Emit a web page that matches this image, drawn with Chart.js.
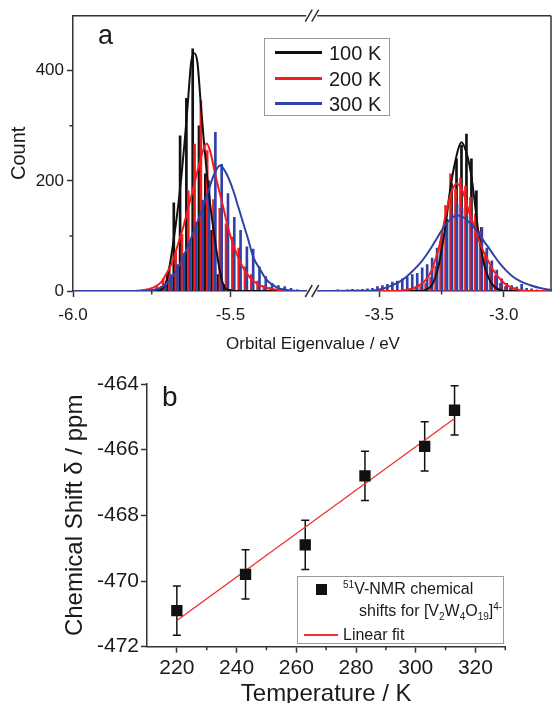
<!DOCTYPE html>
<html>
<head>
<meta charset="utf-8">
<script src="https://cdn.jsdelivr.net/npm/chart.js@4.4.0/dist/chart.umd.min.js"></script>
<style>
  html, body { margin: 0; padding: 0; background: #fff; }
  body { width: 552px; height: 703px; position: relative; overflow: hidden;
         font-family: "Liberation Sans", Arial, sans-serif; color: #1a1a1a; }
  canvas { position: absolute; left: 0; }
  .txt { position: absolute; white-space: nowrap; line-height: 1; }
  .box { position: absolute; border: 1.5px solid #9a9a9a; box-sizing: border-box; }
  .sw { position: absolute; }
  sup, sub { font-size: 10px; line-height: 0; }
</style>
</head>
<body>
<canvas id="histLeft" width="552" height="360" style="top:0"></canvas>
<canvas id="histRight" width="552" height="360" style="top:0"></canvas>
<canvas id="shift" width="552" height="350" style="top:360px"></canvas>

<div class="txt" style="left:98px;top:22px;font-size:27px">a</div>
<div class="txt" style="left:313px;top:335px;font-size:17px;transform:translateX(-50%)">Orbital Eigenvalue / eV</div>
<div id="legendA"></div>

<div class="txt" style="left:162px;top:383px;font-size:28px">b</div>
<div class="box" style="left:297px;top:576px;width:207px;height:68px"></div>
<div class="sw" style="left:315.5px;top:584px;width:11px;height:11px;background:#111"></div>
<div class="txt" style="left:343px;top:581px;font-size:16px"><sup>51</sup>V-NMR chemical</div>
<div class="txt" style="left:359px;top:603px;font-size:16px">shifts for [V<sub>2</sub>W<sub>4</sub>O<sub>19</sub>]<sup>4-</sup></div>
<div class="sw" style="left:303.5px;top:634.3px;width:34.5px;height:1.5px;background:#f03030"></div>
<div class="txt" style="left:343px;top:626.5px;font-size:16px">Linear fit</div>

<script>
// ---- panel a: histograms of orbital eigenvalues ----
const seriesNames = ['100 K', '200 K', '300 K'];

// lower-energy peak (left segment of the broken axis)
const leftBinX100 = [-5.72, -5.70, -5.68, -5.66, -5.64, -5.62, -5.60, -5.58, -5.56, -5.54, -5.52, -5.50];
const leftCount100 = [8, 30, 160, 282, 350, 440, 300, 213, 110, 30, 12, 3];
const leftBinX200 = [-5.774, -5.754, -5.734, -5.714, -5.694, -5.674, -5.654, -5.634, -5.614, -5.594, -5.574,
                     -5.554, -5.534, -5.514, -5.494, -5.474, -5.454, -5.434, -5.414, -5.394, -5.374, -5.354];
const leftCount200 = [1, 3, 8, 22, 44, 70, 103, 182, 267, 346, 255, 166, 150, 122, 98, 78, 44, 30, 18, 10, 6, 3];
const leftBinX300 = [-5.768, -5.748, -5.728, -5.708, -5.688, -5.668, -5.648, -5.628, -5.608, -5.588, -5.568, -5.548,
                     -5.528, -5.508, -5.488, -5.468, -5.448, -5.428, -5.408, -5.388, -5.368, -5.348, -5.328, -5.308, -5.288];
const leftCount300 = [1, 2, 5, 12, 30, 48, 68, 92, 125, 165, 200, 288, 230, 177, 134, 110, 80, 76, 44, 26, 14, 10, 8, 5, 2];

// higher-energy peak (right segment)
const rightBinX100 = [-3.35, -3.33, -3.31, -3.29, -3.27, -3.25, -3.23, -3.21, -3.19, -3.17, -3.15, -3.13, -3.11,
                      -3.09, -3.07, -3.05, -3.03, -3.01];
const rightCount100 = [1, 2, 4, 12, 30, 70, 130, 195, 240, 265, 285, 240, 182, 115, 60, 25, 8, 3];
const rightBinX200 = [-3.414, -3.394, -3.374, -3.354, -3.334, -3.314, -3.294, -3.274, -3.254, -3.234, -3.214, -3.194,
                      -3.174, -3.154, -3.134, -3.114, -3.094, -3.074, -3.054, -3.034, -3.014, -2.994, -2.974, -2.954, -2.934];
const rightCount200 = [1, 2, 3, 5, 8, 14, 25, 45, 90, 155, 213, 185, 205, 190, 170, 140, 108, 70, 45, 28, 14, 8, 5, 3, 2];
const rightBinX300 = [-3.708, -3.688, -3.668, -3.648, -3.628, -3.608, -3.588, -3.568, -3.548, -3.528, -3.508, -3.488,
                      -3.468, -3.448, -3.428, -3.408, -3.388, -3.368, -3.348, -3.328, -3.308, -3.288, -3.268, -3.248,
                      -3.228, -3.208, -3.188, -3.168, -3.148, -3.128, -3.108, -3.088, -3.068, -3.048, -3.028, -3.008,
                      -2.988, -2.968, -2.948, -2.928, -2.908, -2.888, -2.868, -2.848];
const rightCount300 = [1, 1, 2, 1, 2, 3, 2, 3, 4, 5, 8, 10, 12, 16, 18, 22, 25, 30, 32, 42, 48, 60, 78, 105, 128, 140,
                       158, 150, 135, 128, 112, 115, 78, 55, 38, 22, 14, 10, 7, 12, 5, 4, 2, 1];

// fitted curves
const leftFitX100 = [-6.0, -5.76, -5.735, -5.715, -5.705, -5.695, -5.685, -5.675, -5.665, -5.655, -5.645, -5.635, -5.625,
                     -5.615, -5.605, -5.595, -5.585, -5.575, -5.565, -5.555, -5.545, -5.535, -5.525, -5.515, -5.495, -5.47, -5.26];
const leftFitY100 = [0, 0, 0.5, 4, 15, 40, 75, 115, 160, 213, 275, 345, 415, 432, 415, 345, 275, 213, 160, 115, 75, 40, 15, 4, 0.5, 0, 0];
const leftFitX200 = [-6.0, -5.82, -5.787, -5.746, -5.72, -5.703, -5.683, -5.663, -5.648, -5.634, -5.62, -5.607, -5.595, -5.585,
                     -5.576, -5.565, -5.549, -5.536, -5.523, -5.51, -5.496, -5.475, -5.449, -5.42, -5.385, -5.333, -5.28, -5.26];
const leftFitY200 = [0, 0, 1, 6, 16, 32, 55, 92, 120, 152, 182, 213, 240, 258, 268, 255, 213, 182, 152, 120, 92, 60, 32, 15, 6, 1, 0, 0];
const leftFitX300 = [-6.0, -5.80, -5.745, -5.715, -5.692, -5.67, -5.65, -5.628, -5.607, -5.588, -5.57, -5.552, -5.533, -5.512,
                     -5.491, -5.475, -5.459, -5.443, -5.428, -5.405, -5.385, -5.36, -5.343, -5.311, -5.26];
const leftFitY300 = [0, 0, 2, 8, 20, 38, 62, 92, 122, 152, 182, 212, 228, 212, 182, 152, 122, 92, 62, 38, 20, 9, 4, 1, 0];

const rightFitX100 = [-3.75, -3.33, -3.31, -3.29, -3.275, -3.26, -3.248, -3.237, -3.228, -3.22, -3.208, -3.197, -3.183, -3.17,
                      -3.155, -3.139, -3.129, -3.119, -3.111, -3.103, -3.092, -3.08, -3.062, -3.043, -3.02, -3.0, -2.81];
const rightFitY100 = [0, 0, 3, 10, 25, 50, 80, 110, 140, 170, 205, 231, 258, 270, 258, 231, 205, 170, 140, 110, 80, 50, 25, 10, 3, 0, 0];
const rightFitX200 = [-3.75, -3.45, -3.406, -3.37, -3.337, -3.31, -3.29, -3.275, -3.26, -3.246, -3.233, -3.22, -3.205, -3.19,
                      -3.172, -3.155, -3.137, -3.113, -3.09, -3.065, -3.043, -3.015, -2.989, -2.955, -2.924, -2.88, -2.81];
const rightFitY200 = [0, 0, 1, 4, 11, 22, 38, 57, 80, 110, 140, 165, 186, 195, 188, 168, 140, 110, 80, 57, 38, 22, 11, 4, 1, 0, 0];
const rightFitX300 = [-3.75, -3.6, -3.525, -3.48, -3.445, -3.415, -3.391, -3.365, -3.337, -3.312, -3.29, -3.27, -3.25, -3.228,
                      -3.205, -3.184, -3.16, -3.135, -3.11, -3.087, -3.063, -3.04, -3.016, -2.99, -2.963, -2.93, -2.896, -2.85, -2.81];
const rightFitY300 = [0, 0.3, 1, 5, 11, 18, 26, 37, 50, 65, 80, 95, 110, 124, 134, 137, 133, 123, 110, 95, 80, 65, 50, 37, 26,
                      17, 11, 5, 2];

const leftTicks = [-6.0, -5.5];
const rightTicks = [-3.5, -3.0];
const countTicks = [0, 200, 400];

// ---- panel b: 51V NMR shift vs temperature ----
const temps = [220, 243, 263, 283, 303, 313];
const shifts = [-470.9, -469.8, -468.9, -466.8, -465.9, -464.8];
const shiftErr = [0.75, 0.75, 0.75, 0.75, 0.75, 0.75];
const fitT = [220, 313];
const fitShift = [-471.2, -465.05];
const tempTicks = [220, 240, 260, 280, 300, 320];
const shiftTicks = [-472, -470, -468, -466, -464];

const FONT = '"Liberation Sans", Arial, sans-serif';
const INK = '#1a1a1a';
const AXIS = '#333';
const colors = ['#111111', '#f21d1d', '#2f42a8'];

/* ================= helpers ================= */
const pts = (xs, ys) => xs.map((x, i) => ({ x: x, y: ys[i] }));

function lineSet(xs, ys, color, order) {
  return { type: 'line', data: pts(xs, ys), borderColor: color, borderWidth: 2, pointRadius: 0,
           cubicInterpolationMode: 'monotone', fill: false, order: order };
}
function barSet(xs, ys, color, order) {
  return { type: 'bar', data: pts(xs, ys), backgroundColor: color, borderWidth: 0,
           barThickness: 2, grouped: false, order: order };
}
function axis(size, pad, tickValues, extra) {
  return Object.assign({
    border: { display: true, color: AXIS, width: 1.5 },
    grid: { display: true, drawOnChartArea: false, drawTicks: true, tickLength: 6,
            tickColor: AXIS, tickWidth: 1.5, offset: false },
    ticks: { color: INK, font: { family: FONT, size: size }, padding: pad, maxRotation: 0, autoSkip: false },
    afterBuildTicks: s => { s.ticks = tickValues.map(v => ({ value: v })); }
  }, extra);
}

// top/right frame lines, minor ticks and the axis break marks
const frame = {
  id: 'frame',
  afterDraw(chart, args, o) {
    const { ctx, chartArea: a, scales } = chart;
    ctx.save();
    ctx.strokeStyle = AXIS;
    ctx.lineWidth = 1.5;
    ctx.beginPath();
    if (o.top) { ctx.moveTo(a.left, a.top); ctx.lineTo(a.right, a.top); }
    if (o.right) { ctx.moveTo(a.right, a.top); ctx.lineTo(a.right, a.bottom); }
    (o.minorX || []).forEach(v => {
      const x = scales.x.getPixelForValue(v);
      ctx.moveTo(x, a.bottom); ctx.lineTo(x, a.bottom + 3.5);
    });
    (o.minorY || []).forEach(v => {
      const y = scales.y.getPixelForValue(v);
      ctx.moveTo(a.left, y); ctx.lineTo(a.left - 3.5, y);
    });
    if (o.breaks) {
      [a.top, a.bottom].forEach(y => {
        [a.left - 8.5, a.left - 2].forEach(cx => {
          ctx.moveTo(cx - 3.5, y + 6); ctx.lineTo(cx + 3.5, y - 6);
        });
      });
    }
    ctx.stroke();
    ctx.restore();
  }
};

const errorBars = {
  id: 'errorBars',
  beforeDatasetsDraw(chart) {
    const { ctx, scales: { x, y } } = chart;
    ctx.save();
    ctx.strokeStyle = '#111';
    ctx.lineWidth = 1.5;
    ctx.beginPath();
    temps.forEach((t, i) => {
      const px = x.getPixelForValue(t);
      const top = y.getPixelForValue(shifts[i] + shiftErr[i]);
      const bot = y.getPixelForValue(shifts[i] - shiftErr[i]);
      ctx.moveTo(px, top); ctx.lineTo(px, bot);
      ctx.moveTo(px - 4, top); ctx.lineTo(px + 4, top);
      ctx.moveTo(px - 4, bot); ctx.lineTo(px + 4, bot);
    });
    ctx.stroke();
    ctx.restore();
  }
};

const base = {
  responsive: false, animation: false, devicePixelRatio: 1,
};

/* ================= panel a, left segment ================= */
new Chart(document.getElementById('histLeft'), {
  type: 'bar',
  data: { datasets: [
    lineSet(leftFitX300, leftFitY300, colors[2], 0),
    lineSet(leftFitX200, leftFitY200, colors[1], 1),
    lineSet(leftFitX100, leftFitY100, colors[0], 2),
    barSet(leftBinX300, leftCount300, colors[2], 3),
    barSet(leftBinX200, leftCount200, colors[1], 4),
    barSet(leftBinX100, leftCount100, colors[0], 5)
  ]},
  options: Object.assign({}, base, {
    layout: { padding: { left: 0, right: 245.9, top: 15.7, bottom: 0 } },
    plugins: { legend: { display: false }, tooltip: { enabled: false },
               frame: { top: true, minorX: [-5.75], minorY: [100, 300] } },
    scales: {
      x: axis(17, 8, leftTicks, { type: 'linear', min: -6.0, max: -5.26, offset: false,
           afterFit: s => { s.height = 69; } }),
      y: axis(17, 3, countTicks, { type: 'linear', min: 0, max: 500,
           afterFit: s => { s.width = 73; },
           title: { display: true, text: 'Count', color: INK, font: { family: FONT, size: 20 },
                    padding: { top: 7, bottom: 0 } } })
    }
  }),
  plugins: [frame]
});
// tick label format
Chart.getChart('histLeft').options.scales.x.ticks.callback = v => v.toFixed(1);
Chart.getChart('histLeft').update();

/* ================= panel a, right segment ================= */
new Chart(document.getElementById('histRight'), {
  type: 'bar',
  data: { datasets: [
    lineSet(rightFitX300, rightFitY300, colors[2], 0),
    lineSet(rightFitX200, rightFitY200, colors[1], 1),
    lineSet(rightFitX100, rightFitY100, colors[0], 2),
    barSet(rightBinX300, rightCount300, colors[2], 3),
    barSet(rightBinX200, rightCount200, colors[1], 4),
    barSet(rightBinX100, rightCount100, colors[0], 5)
  ]},
  options: Object.assign({}, base, {
    layout: { padding: { left: 317.25, right: 1, top: 15.7, bottom: 0 } },
    plugins: { legend: { display: false }, tooltip: { enabled: false },
               frame: { top: true, right: true, breaks: true, minorX: [-3.25] } },
    scales: {
      x: axis(17, 8, rightTicks, { type: 'linear', min: -3.75, max: -2.81, offset: false,
           afterFit: s => { s.height = 69; } }),
      y: { type: 'linear', min: 0, max: 500, display: false }
    }
  }),
  plugins: [frame]
});
Chart.getChart('histRight').options.scales.x.ticks.callback = v => v.toFixed(1);
Chart.getChart('histRight').update();

// legend of panel a
const legendA = document.getElementById('legendA');
const rowY = [52.7, 78.7, 103.3];
let html = '<div class="box" style="left:264px;top:38px;width:126px;height:78px"></div>';
seriesNames.forEach((name, i) => {
  html += '<div class="sw" style="left:275px;top:' + (rowY[i] - 1.25) + 'px;width:47px;height:2.5px;background:' + colors[i] + '"></div>';
  html += '<div class="txt" style="left:329px;top:' + (rowY[i] - 9.7) + 'px;font-size:20px">' + name + '</div>';
});
legendA.innerHTML = html;

/* ================= panel b ================= */
new Chart(document.getElementById('shift'), {
  type: 'scatter',
  data: { datasets: [
    { data: pts(temps, shifts), pointStyle: 'rect', pointRadius: 8, backgroundColor: '#111',
      borderColor: '#111', borderWidth: 0, order: 0 },
    { type: 'line', data: pts(fitT, fitShift), borderColor: '#f03030', borderWidth: 1.3,
      pointRadius: 0, showLine: true, fill: false, order: 1 }
  ]},
  options: Object.assign({}, base, {
    layout: { padding: { left: 0, right: 46.7, top: 24, bottom: 0 } },
    plugins: { legend: { display: false }, tooltip: { enabled: false },
               frame: { minorX: [230, 250, 270, 290, 310, 330] } },
    scales: {
      x: axis(21, 3, tempTicks, { type: 'linear', min: 210, max: 330,
           afterFit: s => { s.height = 63.3; },
           title: { display: true, text: 'Temperature / K', color: INK, font: { family: FONT, size: 24 },
                    padding: { top: 0, bottom: 1 } } }),
      y: axis(21, 2, shiftTicks, { type: 'linear', min: -472, max: -464,
           afterFit: s => { s.width = 147; },
           title: { display: true, text: 'Chemical Shift δ / ppm', color: INK, font: { family: FONT, size: 24 },
                    padding: { top: 61.3, bottom: 0 } } })
    }
  }),
  plugins: [frame, errorBars]
});
</script>
</body>
</html>
